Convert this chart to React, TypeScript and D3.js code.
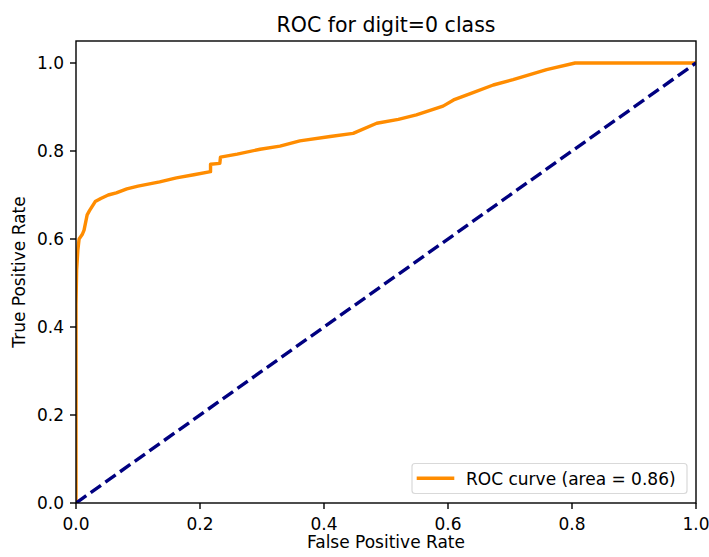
import React, { useEffect, useRef } from "react";
import * as d3 from "d3";

const fpr = [0, 0, 0.001, 0.003, 0.005, 0.010, 0.013, 0.018, 0.022, 0.031, 0.04, 0.052, 0.065, 0.082, 0.10, 0.135, 0.162, 0.19, 0.217, 0.217, 0.232, 0.233, 0.26, 0.297, 0.329, 0.361, 0.41, 0.447, 0.485, 0.52, 0.549, 0.592, 0.609, 0.635, 0.673, 0.705, 0.759, 0.805, 1.0];
const tpr = [0, 0.45, 0.53, 0.575, 0.6, 0.61, 0.62, 0.655, 0.665, 0.685, 0.692, 0.70, 0.705, 0.714, 0.72, 0.73, 0.739, 0.746, 0.753, 0.77, 0.772, 0.786, 0.793, 0.804, 0.811, 0.823, 0.833, 0.840, 0.863, 0.872, 0.882, 0.902, 0.916, 0.93, 0.95, 0.962, 0.985, 1.0, 1.0];
const chanceX = [0, 1];
const chanceY = [0, 1];
const xTicks = [0, 0.2, 0.4, 0.6, 0.8, 1.0];
const yTicks = [0, 0.2, 0.4, 0.6, 0.8, 1.0];
const titleText = "ROC for digit=0 class";
const xLabel = "False Positive Rate";
const yLabel = "True Positive Rate";
const legendLabel = "ROC curve (area = 0.86)";

const W = 709, H = 557;
const L = 76, R = 696, T = 41, B = 503;
const FONT = "DejaVu Sans, sans-serif";

export default function App() {
  const ref = useRef<SVGSVGElement>(null);
  useEffect(() => {
    const svg = d3.select(ref.current);
    svg.selectAll("*").remove();
    const x = d3.scaleLinear().domain([0, 1]).range([L, R]);
    const y = d3.scaleLinear().domain([0, 1.05]).range([B, T]);

    svg.append("rect").attr("width", W).attr("height", H).attr("fill", "#fff");
    svg.append("defs").append("clipPath").attr("id", "clip")
      .append("rect").attr("x", L).attr("y", T).attr("width", R - L).attr("height", B - T);

    const line = d3.line<number>().x((_, i) => 0).y(() => 0);
    const roc = d3.line<[number, number]>().x(d => x(d[0])).y(d => y(d[1]));
    const rocPts: [number, number][] = fpr.map((v, i) => [v, tpr[i]]);
    const chPts: [number, number][] = chanceX.map((v, i) => [v, chanceY[i]]);
    void line;

    const g = svg.append("g").attr("clip-path", "url(#clip)");
    g.append("path").attr("d", roc(rocPts)!).attr("fill", "none")
      .attr("stroke", "#ff8c00").attr("stroke-width", 3.4).attr("stroke-linejoin", "round");
    g.append("path").attr("d", roc(chPts)!).attr("fill", "none")
      .attr("stroke", "#000080").attr("stroke-width", 3.4).attr("stroke-dasharray", "12.6,5.4");

    // spines
    svg.append("rect").attr("x", L).attr("y", T).attr("width", R - L).attr("height", B - T)
      .attr("fill", "none").attr("stroke", "#000").attr("stroke-width", 1.4);

    // x ticks
    xTicks.forEach(t => {
      svg.append("line").attr("x1", x(t)).attr("x2", x(t)).attr("y1", B).attr("y2", B + 6)
        .attr("stroke", "#000").attr("stroke-width", 1.4);
      svg.append("text").attr("x", x(t)).attr("y", 529.5).attr("text-anchor", "middle")
        .attr("font-family", FONT).attr("font-size", 17).attr("fill", "#000").text(t.toFixed(1));
    });
    yTicks.forEach(t => {
      svg.append("line").attr("x1", L - 6).attr("x2", L).attr("y1", y(t)).attr("y2", y(t))
        .attr("stroke", "#000").attr("stroke-width", 1.4);
      svg.append("text").attr("x", 64).attr("y", y(t) + 6.2).attr("text-anchor", "end")
        .attr("font-family", FONT).attr("font-size", 17).attr("fill", "#000").text(t.toFixed(1));
    });

    svg.append("text").attr("x", (L + R) / 2).attr("y", 548.3).attr("text-anchor", "middle")
      .attr("font-family", FONT).attr("font-size", 17).attr("fill", "#000").text(xLabel);
    svg.append("text").attr("transform", `translate(25,${(T + B) / 2}) rotate(-90)`)
      .attr("text-anchor", "middle")
      .attr("font-family", FONT).attr("font-size", 17).attr("fill", "#000").text(yLabel);
    svg.append("text").attr("x", (L + R) / 2).attr("y", 31.5).attr("text-anchor", "middle")
      .attr("font-family", FONT).attr("font-size", 20.5).attr("fill", "#000").text(titleText);

    // legend
    svg.append("rect").attr("x", 412).attr("y", 463.5).attr("width", 275).attr("height", 30)
      .attr("rx", 3).attr("fill", "#fff").attr("fill-opacity", 0.8)
      .attr("stroke", "#d9d9d9").attr("stroke-width", 1.2);
    svg.append("line").attr("x1", 416.7).attr("x2", 454.3).attr("y1", 478.3).attr("y2", 478.3)
      .attr("stroke", "#ff8c00").attr("stroke-width", 3.4);
    svg.append("text").attr("x", 466).attr("y", 484.5)
      .attr("font-family", FONT).attr("font-size", 17).attr("fill", "#000").text(legendLabel);
  }, []);
  return (
    <div style={{ position: "fixed", left: 0, top: 0 }}>
      <svg ref={ref} width={W} height={H} style={{ display: "block" }} />
    </div>
  );
}
